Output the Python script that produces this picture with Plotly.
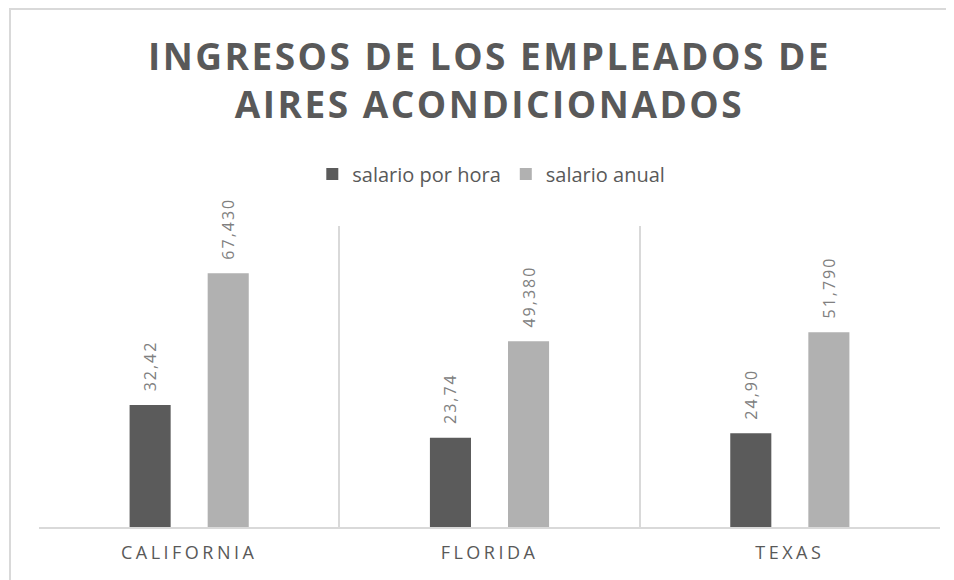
import plotly.graph_objects as go

categories = ["CALIFORNIA", "FLORIDA", "TEXAS"]
salario_hora = [32.42, 23.74, 24.90]
salario_anual = [67.43, 49.38, 51.79]
series_names = ["salario por hora", "salario anual"]
title_lines = ["INGRESOS DE LOS EMPLEADOS DE", "AIRES ACONDICIONADOS"]

DARK = "#5b5b5b"
LIGHT = "#b1b1b1"
TXT = "#595959"
LBL = "#808080"
GRID = "#d9d9d9"
FONT = "Open Sans"


def spaced(s, px):
    return f"<span style='letter-spacing:{px}px'>{s}</span>"


def fmt(v, dec):
    return "&#8194;&#8201;" + spaced(f"{v:.{dec}f}".replace(".", ","), 2)


fig = go.Figure()
fig.add_trace(go.Bar(
    x=categories, y=salario_hora, name=series_names[0],
    marker=dict(color=DARK, line=dict(width=0)),
    text=[fmt(v, 2) for v in salario_hora],
    textposition="outside", textangle=-90, cliponaxis=False, constraintext="none",
    textfont=dict(family=FONT, size=16, color=LBL),
))
fig.add_trace(go.Bar(
    x=categories, y=salario_anual, name=series_names[1],
    marker=dict(color=LIGHT, line=dict(width=0)),
    text=[fmt(v, 3) for v in salario_anual],
    textposition="outside", textangle=-90, cliponaxis=False, constraintext="none",
    textfont=dict(family=FONT, size=16, color=LBL),
))

title_text = "<br>".join(spaced(t, 2.5) for t in title_lines)

# page body has an 8px margin, so figure coordinates are offset by 8px
fig.update_layout(
    width=954, height=580,
    margin=dict(l=31, r=22, t=218, b=61),
    paper_bgcolor="white", plot_bgcolor="white",
    font=dict(family=FONT, color=TXT),
    barmode="group", bargap=0.48, bargroupgap=0.474,
    title=dict(text=title_text, x=0.5, xanchor="center", xref="paper",
               y=1 - 62 / 580, yanchor="top", yref="container",
               font=dict(family=FONT, size=37, color=TXT, weight="bold")),
    legend=dict(orientation="h", x=0.502, xanchor="center", y=1.1728, yanchor="middle",
                font=dict(family=FONT, size=20, color=TXT), traceorder="normal",
                itemclick=False),
    uniformtext=dict(mode=False),
    showlegend=True,
)
fig.update_xaxes(
    type="category", tickvals=categories,
    ticktext=[spaced(c, 3.5) for c in categories],
    tickson="boundaries", showgrid=True, gridcolor=GRID, gridwidth=2,
    showline=True, linecolor=GRID, linewidth=2, ticks="",
    tickfont=dict(family=FONT, size=18, color=TXT), ticklabelstandoff=8,
    range=[-0.5, 2.5], fixedrange=True,
)
fig.update_yaxes(range=[0, 80], showgrid=False, showticklabels=False,
                 zeroline=False, showline=False, fixedrange=True)

# chart-area border (decorative frame)
fig.add_shape(type="rect", xref="paper", yref="paper",
              x0=(2 - 31) / 901, x1=1.2, y0=-0.5, y1=(519 - 1) / 301,
              line=dict(color=GRID, width=2), fillcolor="rgba(0,0,0,0)", layer="below")

fig.write_html("out.html")
